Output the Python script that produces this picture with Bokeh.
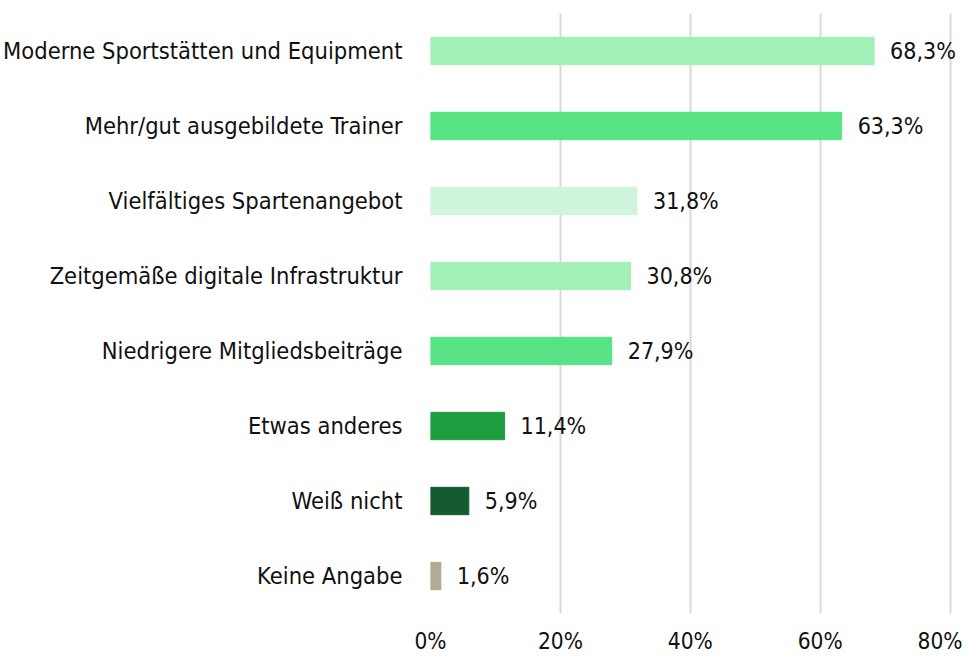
from bokeh.plotting import figure
from bokeh.models import ColumnDataSource, FactorRange, Range1d, FixedTicker, PrintfTickFormatter
from bokeh.core.properties import value
from bokeh.embed import file_html
from bokeh.resources import INLINE

categories = ["Moderne Sportstätten und Equipment", "Mehr/gut ausgebildete Trainer",
              "Vielfältiges Spartenangebot", "Zeitgemäße digitale Infrastruktur",
              "Niedrigere Mitgliedsbeiträge", "Etwas anderes", "Weiß nicht", "Keine Angabe"]
values = [68.3, 63.3, 31.8, 30.8, 27.9, 11.4, 5.9, 1.6]
colors = ["#a2efb7", "#57e384", "#cff5dd", "#a2efb7", "#57e384", "#1f9d41", "#145b2f", "#b2ab8f"]
x_ticks = [0, 20, 40, 60, 80]

FONT = "DejaVu Sans Condensed"

labels = [("%.1f%%" % v).replace(".", ",") for v in values]
src = ColumnDataSource(dict(cat=categories, val=values, col=colors, lab=labels))

x_end = 81.6
p = figure(width=962, height=656, output_backend="svg", toolbar_location=None,
           y_range=FactorRange(factors=list(reversed(categories))),
           x_range=Range1d(0, x_end),
           min_border_left=416, min_border_right=2, min_border_top=13, min_border_bottom=0)

p.hbar(y="cat", left=0, right="val", height=0.365, color="col", source=src)
p.text(x="val", y="cat", text="lab", x_offset=16, text_baseline="middle", text_align="left",
       text_font=value(FONT), text_font_size="23px", text_color="#111111", source=src)

p.outline_line_color = None
p.ygrid.grid_line_color = None
p.xgrid.grid_line_color = "#d9d9d9"
p.xgrid.grid_line_width = 2
p.xaxis.ticker = FixedTicker(ticks=x_ticks)
p.xaxis.formatter = PrintfTickFormatter(format="%d%%")
for ax in (p.xaxis[0], p.yaxis[0]):
    ax.axis_line_color = None
    ax.major_tick_line_color = None
    ax.minor_tick_line_color = None
    ax.major_tick_out = 0
    ax.major_tick_in = 0
    ax.minor_tick_out = 0
    ax.minor_tick_in = 0
    ax.axis_label_standoff = 0
    ax.major_label_text_font = FONT
    ax.major_label_text_color = "#111111"
p.xaxis.major_label_text_font_size = "22.5px"
p.xaxis.major_label_standoff = 14
p.yaxis.major_label_text_font_size = "23.5px"
p.yaxis.major_label_standoff = 28

open("out.html", "w").write(file_html(p, INLINE))
